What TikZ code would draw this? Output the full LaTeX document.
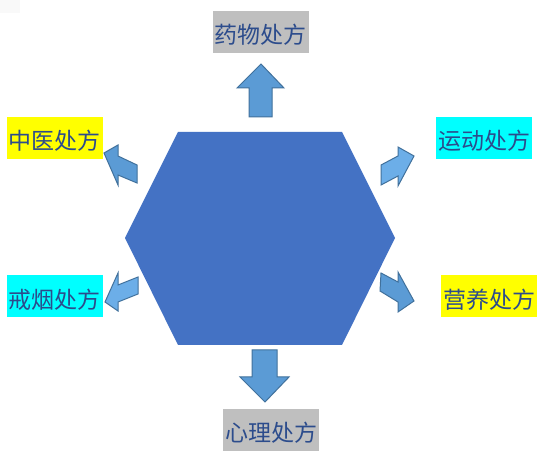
\documentclass[tikz,border=0pt]{standalone}
\usepackage{fontspec}
\newfontfamily\cjk{Noto Sans CJK SC}
\definecolor{hexblue}{HTML}{4472C4}
\definecolor{arrblue}{HTML}{5B9BD5}
\definecolor{arrlight}{HTML}{6CAEE8}
\definecolor{arredge}{HTML}{41719C}
\definecolor{txtblue}{RGB}{44,76,140}
\definecolor{boxgray}{HTML}{BFBFBF}
\definecolor{boxyellow}{HTML}{FFFF00}
\definecolor{boxcyan}{HTML}{00FFFF}
\tikzset{
  lbl/.style={font=\cjk\fontsize{23}{23}\selectfont, text=txtblue, inner sep=0pt,
              text height=24pt, text depth=0pt,
              minimum width=96pt, minimum height=42pt, anchor=center},
  arr/.style={fill=arrblue, draw=arredge, line width=1pt, line join=miter},
  arrl/.style={arr, fill=arrlight},
}
\begin{document}
\begin{tikzpicture}[x=1pt,y=-1pt]
\useasboundingbox (0,0) rectangle (547,462);
\fill[white] (0,0) rectangle (547,462);
\fill[gray!5] (0,0) rectangle (20,13);
% hexagon
\fill[hexblue] (125,238) -- (178,132) -- (342,132) -- (395,238) -- (342,345) -- (178,345) -- cycle;
% up arrow
\draw[arr] (249,117) -- (249,88) -- (237,88) -- (261,64) -- (284,88) -- (272,88) -- (272,117) -- cycle;
% down arrow
\draw[arr] (252,350) -- (252,377) -- (240,377) -- (265,402) -- (289,377) -- (277,377) -- (277,350) -- cycle;
% upper-right arrow
\draw[arrl] (381,165) -- (398,156) -- (398,147) -- (414,156) -- (398,186) -- (398,176) -- (381,185) -- cycle;
% lower-right arrow
\draw[arr] (381,273) -- (398,282) -- (398,272) -- (414,301) -- (398,312) -- (398,302) -- (380,291) -- cycle;
% upper-left arrow
\draw[arr] (137,165) -- (118,156) -- (118,145) -- (104,153) -- (118,185) -- (118,175) -- (137,183) -- cycle;
% lower-left arrow
\draw[arrl] (138,277) -- (118,285) -- (118,273) -- (105,302) -- (118,311) -- (118,302) -- (138,294) -- cycle;
% labels
\node[lbl, fill=boxgray] (yaowu) at (260.5,32) {药物处方};
\node[lbl, fill=boxgray] (xinli) at (271,430) {心理处方};
\node[lbl, fill=boxyellow] (zhongyi) at (55,138) {中医处方};
\node[lbl, fill=boxcyan] (yundong) at (484,138) {运动处方};
\node[lbl, fill=boxcyan] (jieyan) at (55,296.5) {戒烟处方};
\node[lbl, fill=boxyellow] (yingyang) at (489,296.5) {营养处方};
\end{tikzpicture}
\end{document}
